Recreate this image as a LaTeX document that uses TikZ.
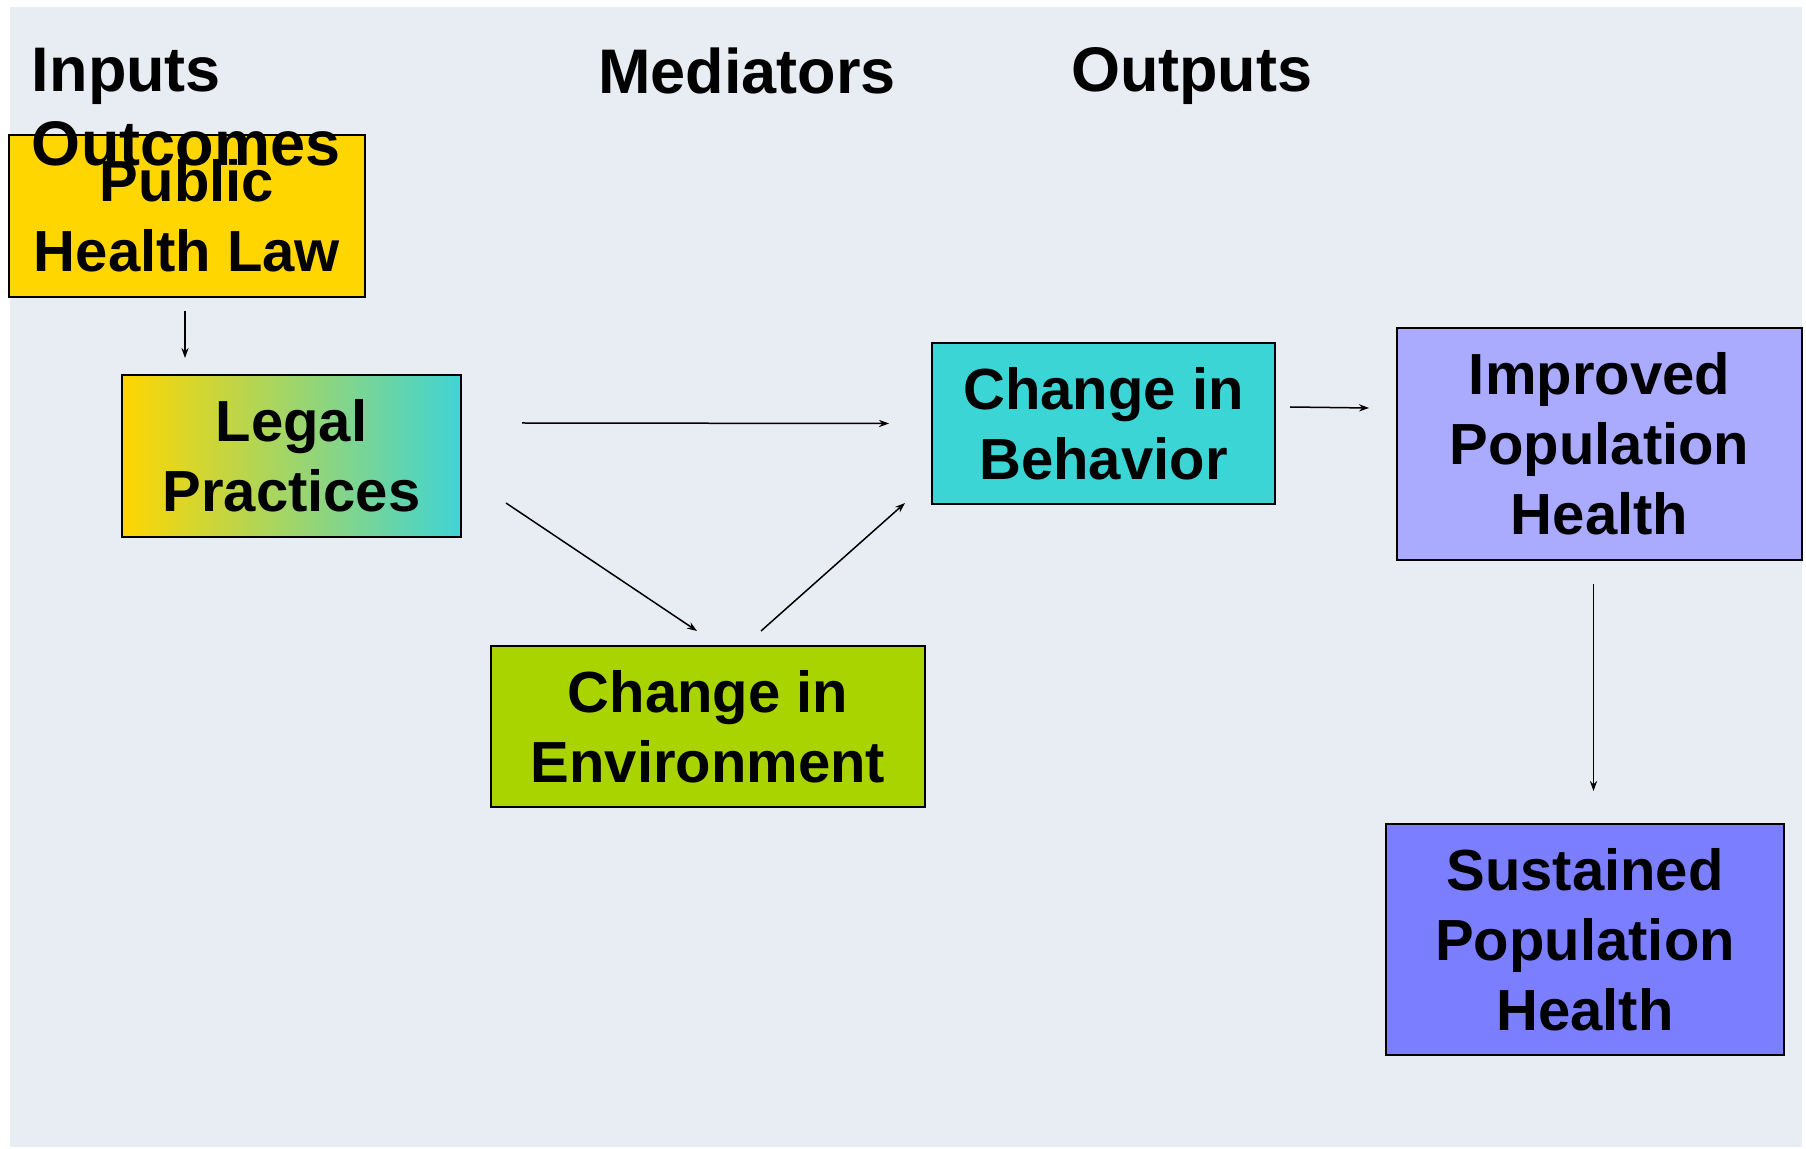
\documentclass[tikz,border=0pt]{standalone}
\usepackage{fontspec}
\setmainfont{Liberation Sans}
\usetikzlibrary{calc,arrows.meta}
\definecolor{bgc}{RGB}{232,236,243}
\definecolor{gold}{RGB}{255,214,0}
\definecolor{turq}{RGB}{60,213,213}
\definecolor{turqb}{RGB}{64,212,212}
\definecolor{lime}{RGB}{170,212,0}
\definecolor{lav}{RGB}{170,170,255}
\definecolor{periw}{RGB}{123,127,255}
\begin{document}
\begin{tikzpicture}[x=0.5pt,y=-0.5pt,
  box/.style={draw=black, line width=1pt, inner sep=0pt, outer sep=0pt, align=center,
    font=\fontsize{29}{35}\selectfont\bfseries},
  header/.style={inner sep=0pt, outer sep=0pt, anchor=north west, align=left,
    font=\fontsize{31.5}{37}\selectfont\bfseries},
  arr/.style={line width=0.75pt, -{Stealth[length=5pt,width=3.6pt]}}]
\useasboundingbox (0,0) rectangle (1806,1149);
\fill[bgc] (10,7) rectangle (1802,1147);

\node[box, fill=gold, minimum width=178pt, minimum height=81pt] (phl) at (187,216) {Public\\Health Law};
\node[box, left color=gold, right color=turqb, minimum width=169.5pt, minimum height=81pt] (lp) at (291.5,456) {Legal\\Practices};
\node[box, fill=turq, minimum width=171.5pt, minimum height=80.5pt] (cb) at (1103.5,423.5) {Change in\\Behavior};
\node[box, fill=lime, minimum width=217pt, minimum height=80.5pt] (ce) at (708,726.5) {Change in\\Environment};
\node[box, fill=lav, minimum width=202.5pt, minimum height=116pt] (iph) at (1599.5,444) {Improved\\Population\\Health};
\node[box, fill=periw, minimum width=199pt, minimum height=115.5pt] (sph) at (1585,939.5) {Sustained\\Population\\Health};

\node[header] (hin) at (32,48) {Inputs\\Outcomes};
\node[header] (hmed) at (598,48) {Mediators};
\node[header] (hout) at (1071,48) {Outputs};

\draw[arr] ($(phl.south)+(-2,14)$) -- ($(phl.south |- lp.north)+(-2,-17)$);
\draw[arr] ($(lp.east)+(61,-33)$) -- ($(cb.west)+(-43,0)$);
\draw[arr] ($(lp.south east)+(45,-34)$) -- ($(ce.north)+(-11,-15)$);
\draw[arr] ($(ce.north)+(53,-15)$) -- ($(cb.south west)+(-27,-1)$);
\draw[arr] ($(cb.east)+(15,-16.5)$) -- ($(iph.west)+(-28,-36)$);
\draw[arr] ($(iph.south)+(-6,24)$) -- ($(iph.south |- sph.north)+(-6,-33)$);
\end{tikzpicture}
\end{document}
